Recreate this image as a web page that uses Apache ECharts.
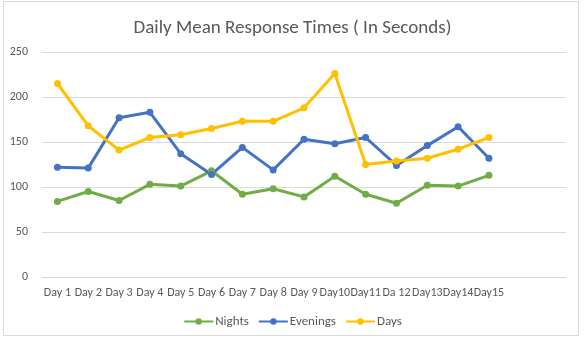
<!DOCTYPE html>
<html>
<head>
<meta charset="utf-8">
<script src="https://cdn.jsdelivr.net/npm/echarts@6/dist/echarts.min.js"></script>
<style>
html,body{margin:0;padding:0;background:#fff;}
#c{width:585px;height:339px;}
</style>
</head>
<body>
<div id="c"></div>
<script>
// Categories (the last two slots are empty in the original chart)
var categories = ["Day 1","Day 2","Day 3","Day 4","Day 5","Day 6","Day 7","Day 8","Day 9","Day10","Day11","Da 12","Day13","Day14","Day15","",""];
var nights   = [84, 95, 85, 103, 101, 118, 92, 98, 89, 112, 92, 82, 102, 101, 113, null, null];
var evenings = [122, 121, 177, 183, 137, 114, 144, 119, 153, 148, 155, 124, 146, 167, 132, null, null];
var days     = [215, 168, 141, 155, 158, 165, 173, 173, 188, 226, 125, 129, 132, 142, 155, null, null];
var yTicks = [0, 50, 100, 150, 200, 250];

var FONT = "Carlito, 'Liberation Sans Narrow', 'Open Sans', sans-serif";
var chart = echarts.init(document.getElementById('c'), null, {renderer:'canvas'});
function mk(name, data, color){
  return {
    name: name, type: 'line', data: data,
    symbol: 'circle', symbolSize: 7,
    lineStyle: {width: 3, color: color},
    itemStyle: {color: color},
    connectNulls: false,
    animation: false
  };
}
chart.setOption({
  animation: false,
  textStyle: {fontFamily: FONT},
  title: {
    text: 'Daily Mean Response Times ( In Seconds)',
    left: 'center', top: 14,
    textStyle: {fontFamily: FONT, fontSize: 19, fontWeight: 'normal', color: '#595959'}
  },
  graphic: [{
    type: 'rect', shape: {x: 3.5, y: 1.5, width: 575, height: 334},
    style: {fill: 'none', stroke: '#d9d9d9', lineWidth: 1}, silent: true, z: -1
  }],
  legend: {
    top: 310, left: 'center',
    itemWidth: 29, itemHeight: 8, itemGap: 9,
    textStyle: {fontFamily: FONT, fontSize: 13, color: '#595959', padding: [0, 0, 0, -3]},
    data: ['Nights','Evenings','Days']
  },
  grid: {left: 42, right: 19, top: 52, bottom: 62, containLabel: false},
  xAxis: {
    type: 'category', data: categories, boundaryGap: true,
    axisLine: {show: true, lineStyle: {color: '#d9d9d9'}},
    axisTick: {show: false},
    axisLabel: {interval: 0, color: '#595959', fontSize: 12, fontFamily: FONT, margin: 10}
  },
  yAxis: {
    type: 'value', min: yTicks[0], max: yTicks[yTicks.length-1], interval: 50,
    axisLine: {show: false}, axisTick: {show: false},
    splitLine: {lineStyle: {color: '#d9d9d9'}},
    axisLabel: {color: '#595959', fontSize: 12, fontFamily: FONT, margin: 14}
  },
  series: [
    mk('Nights', nights, '#70AD47'),
    mk('Evenings', evenings, '#4472C4'),
    mk('Days', days, '#FFC000')
  ]
});
</script>
</body>
</html>
